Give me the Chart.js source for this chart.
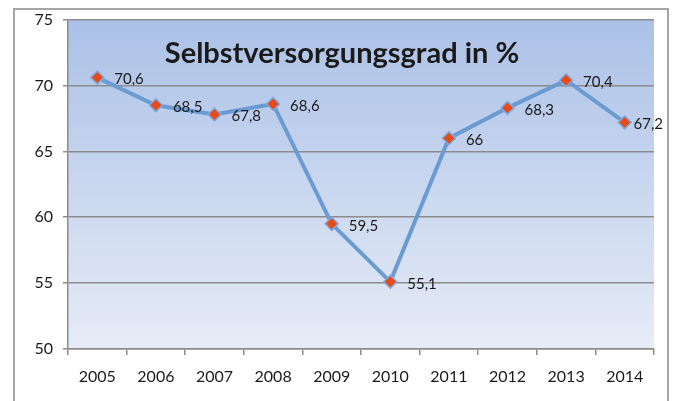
<!DOCTYPE html>
<html>
<head>
<meta charset="utf-8">
<script src="https://cdn.jsdelivr.net/npm/chart.js@4.4.1/dist/chart.umd.min.js"></script>
<style>
html,body{margin:0;padding:0;background:#fff;}
#wrap{position:relative;width:675px;height:401px;}
</style>
</head>
<body>
<div id="wrap"><canvas id="c" width="675" height="401"></canvas></div>
<script>
const years = ["2005","2006","2007","2008","2009","2010","2011","2012","2013","2014"];
const selfSufficiency = [70.6, 68.5, 67.8, 68.6, 59.5, 55.1, 66, 68.3, 70.4, 67.2];
const valueLabels = ["70,6","68,5","67,8","68,6","59,5","55,1","66","68,3","70,4","67,2"];
const chartTitle = "Selbstversorgungsgrad in %";

const frame = {
  id: 'frame',
  beforeDraw(chart) {
    const ctx = chart.ctx, a = chart.chartArea;
    ctx.save();
    ctx.fillStyle = '#fff';
    ctx.fillRect(0, 0, chart.width, chart.height);
    ctx.strokeStyle = '#a6a6a6';
    ctx.lineWidth = 2;
    ctx.strokeRect(14, 9, 654, 420);
    const g = ctx.createLinearGradient(0, a.top, 0, a.bottom);
    g.addColorStop(0, '#abc1e7');
    g.addColorStop(1, '#e7ecf7');
    ctx.fillStyle = g;
    ctx.fillRect(a.left, a.top, a.right - a.left, a.bottom - a.top);
    ctx.restore();
  },
  afterDatasetsDraw(chart) {
    const ctx = chart.ctx, a = chart.chartArea;
    ctx.save();
    ctx.font = 'bold 29px Lato';
    ctx.fillStyle = '#1a1a1a';
    ctx.textAlign = 'center';
    ctx.textBaseline = 'alphabetic';
    ctx.fillText(chartTitle, 342, 63);
    ctx.font = '15px Lato';
    ctx.textAlign = 'left';
    ctx.textBaseline = 'middle';
    const meta = chart.getDatasetMeta(0);
    meta.data.forEach((p, i) => {
      const t = valueLabels[i];
      const w = ctx.measureText(t).width;
      let off = 17;
      if (p.x + off + w > a.right + 9) off = a.right + 9 - p.x - w;
      ctx.fillText(t, p.x + off, p.y + 2);
    });
    ctx.restore();
  }
};

new Chart(document.getElementById('c'), {
  type: 'line',
  data: {
    labels: years,
    datasets: [{
      data: selfSufficiency,
      borderColor: '#6a9bd3',
      borderWidth: 4,
      pointStyle: 'rectRot',
      pointRadius: 6.5,
      pointBackgroundColor: '#e84a18',
      pointBorderColor: '#7eaadf',
      pointBorderWidth: 1.5,
      tension: 0,
      clip: false
    }]
  },
  options: {
    responsive: false,
    animation: false,
    devicePixelRatio: 1,
    layout: { padding: { left: 0, top: 19, right: 21, bottom: 0 } },
    plugins: { legend: { display: false }, tooltip: { enabled: false }, title: { display: false } },
    scales: {
      x: {
        offset: true,
        grid: { offset: true, drawOnChartArea: false, drawTicks: true, tickLength: 6, color: '#8c8c8c', lineWidth: 1.5 },
        border: { display: true, color: '#8c8c8c', width: 1.5 },
        ticks: { color: '#1a1a1a', font: { family: 'Lato', size: 16 }, padding: 12, maxRotation: 0 },
        afterFit(s) { s.height = 52; }
      },
      y: {
        min: 50, max: 75,
        ticks: { stepSize: 5, color: '#1a1a1a', font: { family: 'Lato', size: 16 }, padding: 10 },
        grid: { color: '#8c8c8c', lineWidth: 1.5, tickLength: 5 },
        border: { display: true, color: '#8c8c8c', width: 1.5 },
        afterFit(s) { s.width = 68; }
      }
    }
  },
  plugins: [frame]
});
</script>
</body>
</html>
